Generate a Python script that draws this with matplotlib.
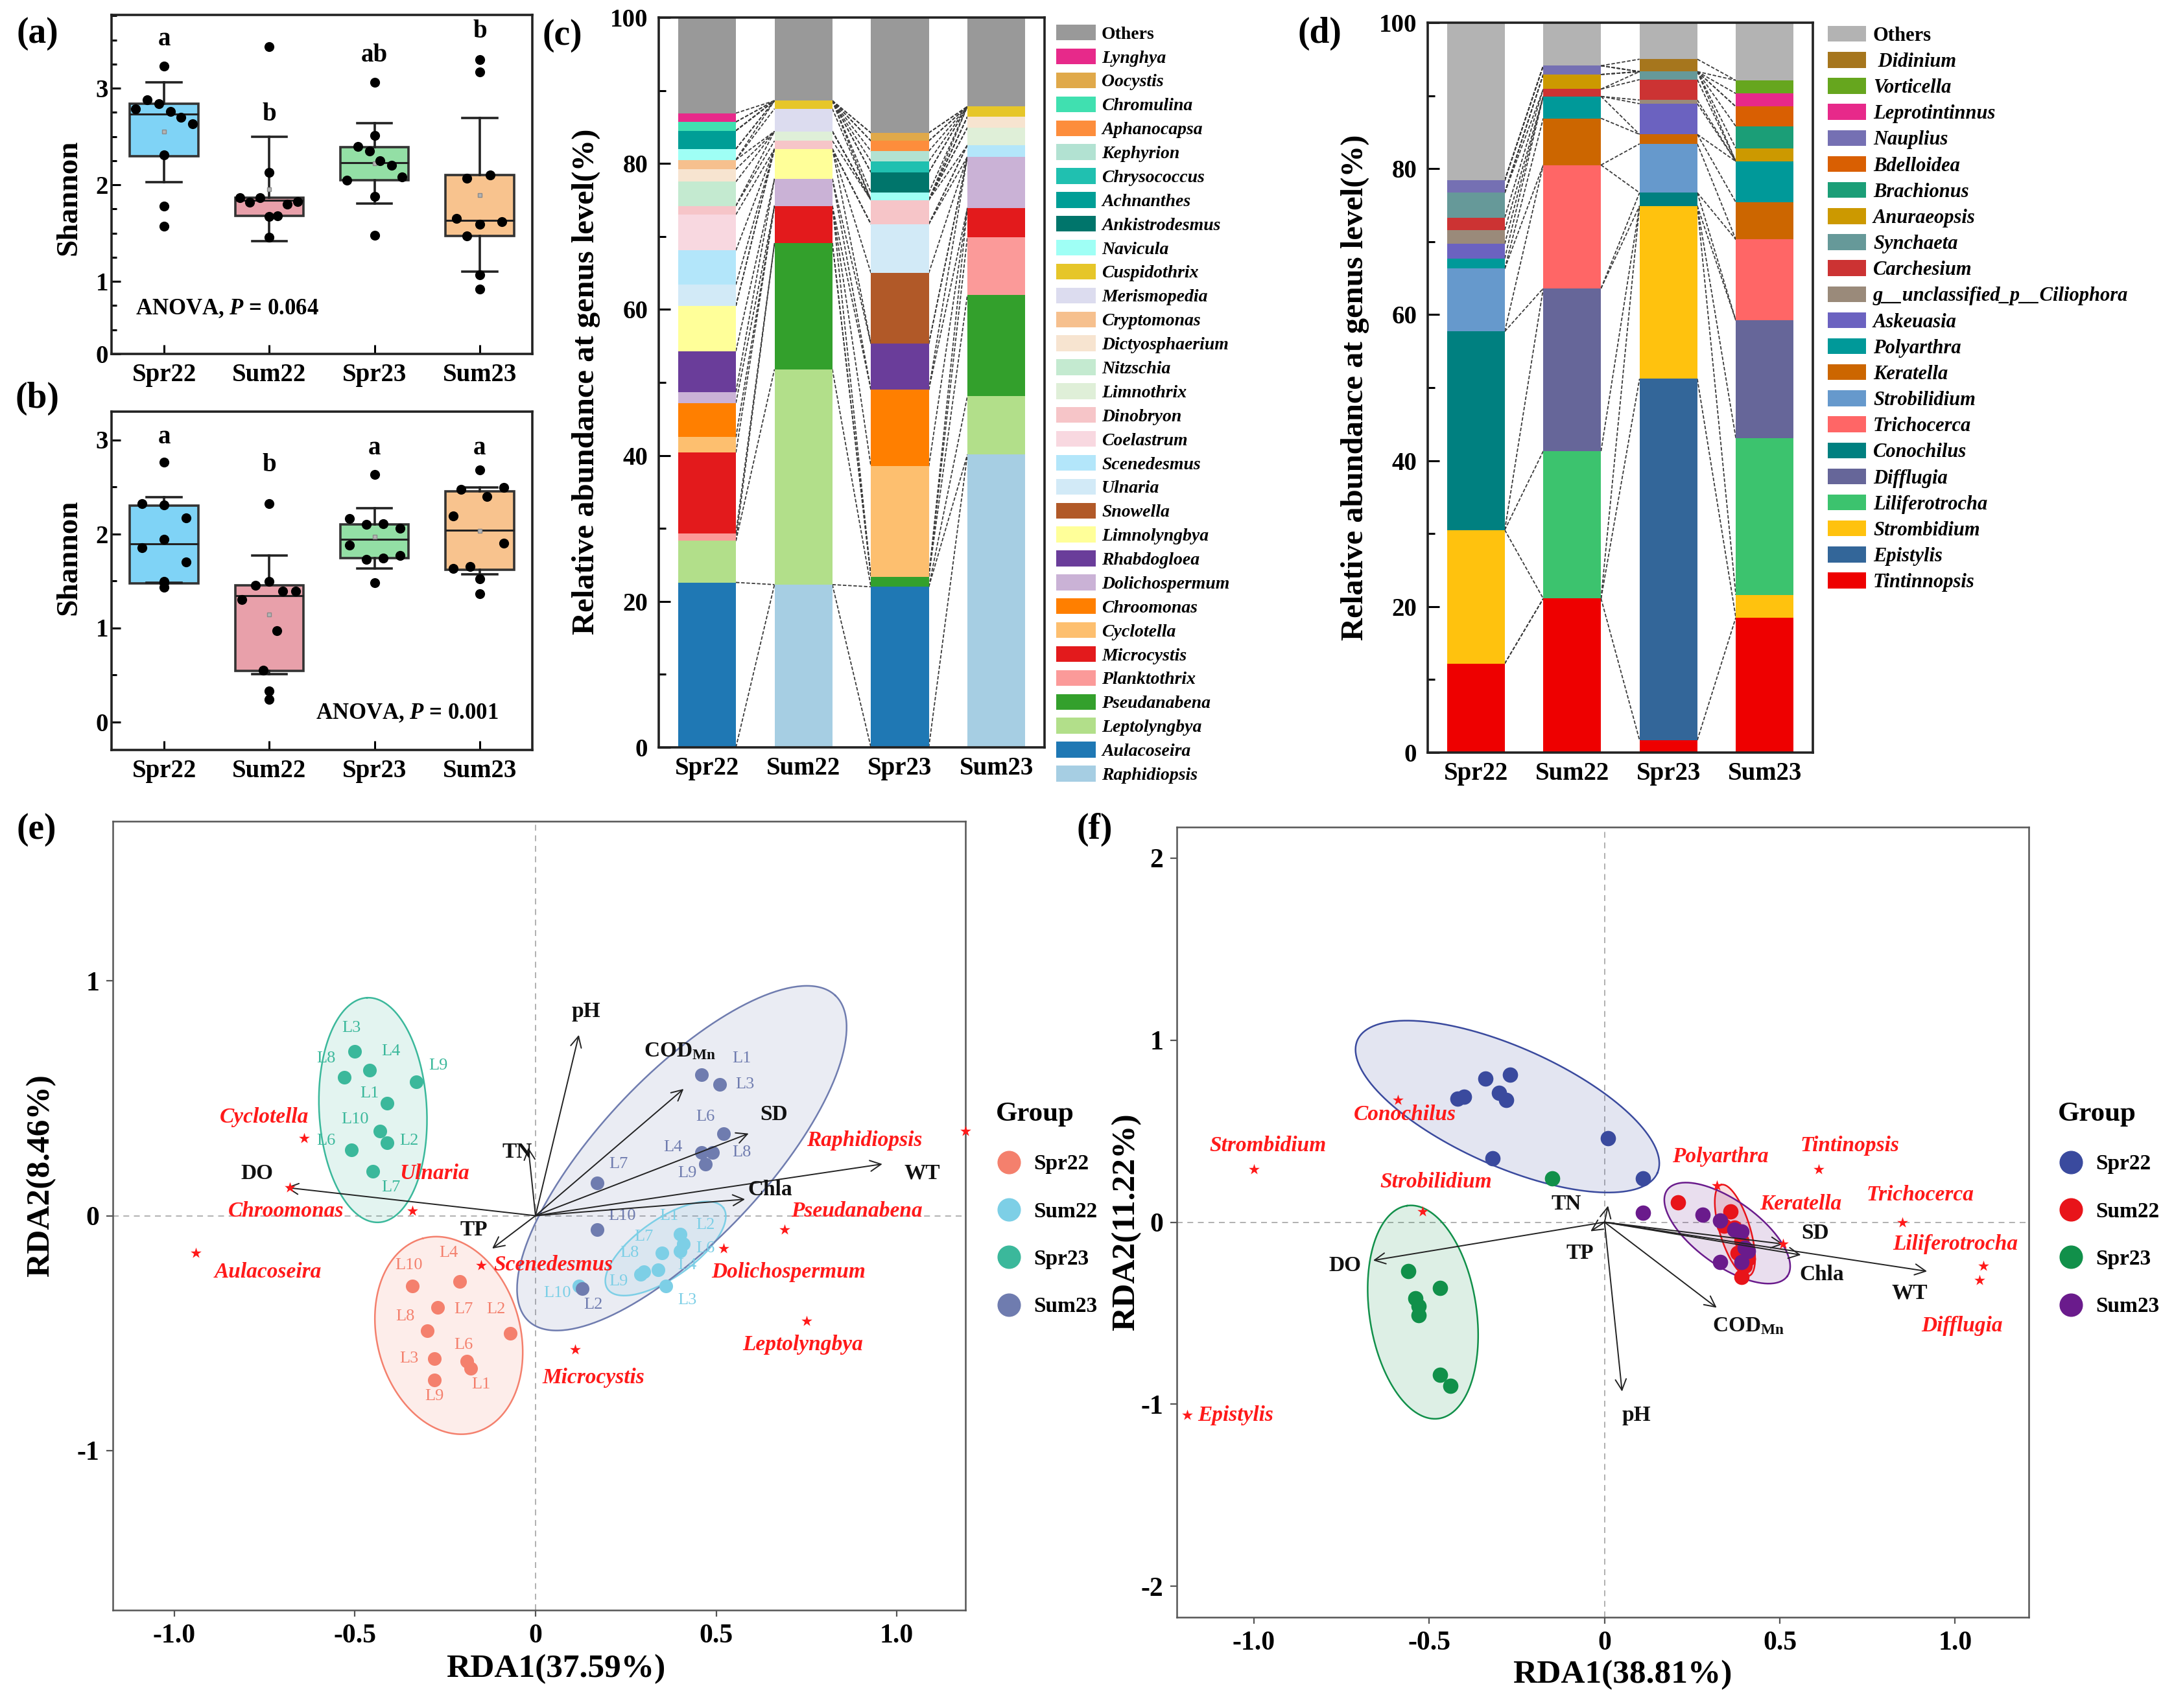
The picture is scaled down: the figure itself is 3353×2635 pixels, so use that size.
import numpy as np
import matplotlib
matplotlib.use('Agg')
import matplotlib.pyplot as plt
from matplotlib.patches import Patch
from matplotlib.lines import Line2D
from matplotlib.ticker import MultipleLocator

plt.rcParams['font.family'] = ['Liberation Serif', 'DejaVu Serif']
plt.rcParams['font.weight'] = 'bold'
plt.rcParams['mathtext.fontset'] = 'custom'
plt.rcParams['mathtext.rm'] = 'Liberation Serif:bold'
plt.rcParams['mathtext.it'] = 'Liberation Serif:italic:bold'
plt.rcParams['mathtext.bf'] = 'Liberation Serif:bold'
plt.rcParams['axes.unicode_minus'] = False

# ======================= DATA =======================
groups = ['Spr22', 'Sum22', 'Spr23', 'Sum23']

# (a) phytoplankton Shannon
a_spr22 = [3.23, 2.88, 2.84, 2.79, 2.76, 2.70, 2.63, 2.31, 1.78, 1.57]
a_sum22 = [3.43, 2.13, 1.87, 1.82, 1.87, 1.80, 1.83, 1.67, 1.68, 1.46]
a_spr23 = [3.06, 2.51, 2.40, 2.35, 2.25, 2.20, 2.08, 2.05, 1.88, 1.48]
a_sum23 = [3.30, 3.17, 2.07, 2.10, 1.65, 1.59, 1.62, 1.47, 1.07, 0.92]
a_q1 = [2.30, 1.68, 2.05, 1.47]
a_med = [2.73, 1.84, 2.23, 1.63]
a_q3 = [2.84, 1.87, 2.39, 2.10]
a_wlo = [2.03, 1.42, 1.81, 1.10]
a_whi = [3.06, 2.50, 2.64, 2.69]
a_letters = ['a', 'b', 'ab', 'b']

# (b) zooplankton Shannon
b_spr22 = [2.76, 2.32, 2.31, 2.17, 1.94, 1.85, 1.70, 1.49, 1.48, 1.43]
b_sum22 = [2.32, 1.49, 1.45, 1.39, 1.39, 1.30, 0.97, 0.55, 0.33, 0.24]
b_spr23 = [2.63, 2.16, 2.10, 2.11, 2.06, 1.88, 1.73, 1.74, 1.77, 1.48]
b_sum23 = [2.68, 2.47, 2.40, 2.49, 2.19, 1.90, 1.63, 1.65, 1.52, 1.36]
b_q1 = [1.47, 0.54, 1.74, 1.62]
b_med = [1.89, 1.34, 1.94, 2.04]
b_q3 = [2.30, 1.45, 2.10, 2.45]
b_wlo = [1.48, 0.51, 1.63, 1.57]
b_whi = [2.39, 1.77, 2.27, 2.49]
b_letters = ['a', 'b', 'a', 'a']

# (c) phytoplankton genera, bottom -> top
c_genera = ['Raphidiopsis', 'Aulacoseira', 'Leptolyngbya', 'Pseudanabena', 'Planktothrix',
            'Microcystis', 'Cyclotella', 'Chroomonas', 'Dolichospermum', 'Rhabdogloea',
            'Limnolyngbya', 'Snowella', 'Ulnaria', 'Scenedesmus', 'Coelastrum', 'Dinobryon',
            'Limnothrix', 'Nitzschia', 'Dictyosphaerium', 'Cryptomonas', 'Merismopedia',
            'Cuspidothrix', 'Navicula', 'Ankistrodesmus', 'Achnanthes', 'Chrysococcus',
            'Kephyrion', 'Aphanocapsa', 'Chromulina', 'Oocystis', 'Lynghya', 'Others']
c_spr22 = [0, 22.6, 5.7, 0, 1.0, 11.1, 2.1, 4.7, 1.5, 5.6, 6.2, 0, 2.9, 4.7, 4.9, 1.2,
           0, 3.3, 1.7, 1.3, 0, 0, 1.5, 0, 2.5, 0, 0, 0, 1.2, 0, 1.2, 13.1]
c_sum22 = [22.3, 0, 29.5, 17.3, 0, 5.1, 0, 0, 3.7, 0, 4.1, 0, 0, 0, 0, 1.1,
           1.3, 0, 0, 0, 3.1, 1.1, 0, 0, 0, 0, 0, 0, 0, 0, 0, 11.4]
c_spr23 = [0, 22.0, 0, 1.4, 0, 0, 15.1, 10.5, 0, 6.3, 0, 9.7, 6.7, 0, 0, 3.3,
           0, 0, 0, 0, 0, 0, 1.0, 2.8, 0, 1.5, 1.4, 1.4, 0, 1.1, 0, 15.8]
c_sum23 = [40.1, 0, 8.0, 13.9, 7.9, 4.0, 0, 0, 7.0, 0, 0, 0, 0, 1.6, 0, 0,
           2.4, 0, 1.5, 0, 0, 1.4, 0, 0, 0, 0, 0, 0, 0, 0, 0, 12.2]

# (d) zooplankton genera, bottom -> top
d_genera = ['Tintinnopsis', 'Epistylis', 'Strombidium', 'Liliferotrocha', 'Difflugia',
            'Conochilus', 'Trichocerca', 'Strobilidium', 'Keratella', 'Polyarthra',
            'Askeuasia', 'g__unclassified_p__Ciliophora', 'Carchesium', 'Synchaeta',
            'Anuraeopsis', 'Brachionus', 'Bdelloidea', 'Nauplius', 'Leprotintinnus',
            'Vorticella', ' Didinium', 'Others']
d_spr22 = [12.2, 0, 18.3, 0, 0, 27.2, 0, 8.6, 0, 1.4, 2.0, 1.9, 1.7, 3.4, 0, 0, 0, 1.7, 0, 0, 0, 21.6]
d_sum22 = [21.1, 0, 0, 20.2, 22.3, 0, 16.9, 0, 6.4, 3.0, 0, 0, 1.0, 0, 2.0, 0, 0, 1.2, 0, 0, 0, 5.9]
d_spr23 = [1.7, 49.5, 23.7, 0, 0, 1.8, 0, 6.7, 1.3, 0, 4.2, 0.5, 2.8, 1.1, 0, 0, 0, 0, 0, 0, 1.7, 5.0]
d_sum23 = [18.5, 0, 3.1, 21.5, 16.1, 0, 11.1, 0, 5.1, 5.6, 0, 0, 0, 0, 1.8, 3.0, 2.7, 0, 1.8, 1.8, 0, 7.9]

# (e) RDA phytoplankton: samples
e_names = ['L1', 'L2', 'L3', 'L4', 'L6', 'L7', 'L8', 'L9', 'L10']
e_spr22_x = [-0.18, -0.07, -0.28, -0.21, -0.19, -0.27, -0.30, -0.28, -0.34]
e_spr22_y = [-0.65, -0.50, -0.61, -0.28, -0.62, -0.39, -0.49, -0.70, -0.30]
e_sum22_x = [0.40, 0.41, 0.36, 0.34, 0.40, 0.35, 0.29, 0.30, 0.12]
e_sum22_y = [-0.08, -0.12, -0.30, -0.23, -0.15, -0.16, -0.25, -0.24, -0.30]
e_spr23_x = [-0.41, -0.41, -0.50, -0.46, -0.51, -0.45, -0.53, -0.33, -0.43]
e_spr23_y = [0.48, 0.31, 0.70, 0.62, 0.28, 0.19, 0.59, 0.57, 0.36]
e_sum23_x = [0.46, 0.13, 0.51, 0.46, 0.52, 0.17, 0.49, 0.47, 0.17]
e_sum23_y = [0.60, -0.31, 0.56, 0.27, 0.35, 0.14, 0.27, 0.22, -0.06]
# (e) environmental vectors
e_env = ['pH', 'COD$_{\\mathrm{Mn}}$', 'SD', 'TN', 'WT', 'Chla', 'DO', 'TP']
e_env_x = [0.12, 0.41, 0.59, -0.02, 0.96, 0.58, -0.69, -0.12]
e_env_y = [0.77, 0.54, 0.35, 0.29, 0.22, 0.07, 0.12, -0.14]
# (e) species scores
e_sp = ['Cyclotella', 'Chroomonas', 'Ulnaria', 'Aulacoseira', 'Scenedesmus', 'Microcystis',
        'Raphidiopsis', 'Pseudanabena', 'Dolichospermum', 'Leptolyngbya']
e_sp_x = [-0.64, -0.68, -0.34, -0.94, -0.15, 0.11, 1.19, 0.69, 0.52, 0.75]
e_sp_y = [0.33, 0.12, 0.02, -0.16, -0.21, -0.57, 0.36, -0.06, -0.14, -0.45]

# (f) RDA zooplankton: samples
f_spr22_x = [-0.34, -0.27, -0.42, -0.40, -0.30, -0.28, -0.32, 0.01, 0.11]
f_spr22_y = [0.79, 0.81, 0.68, 0.69, 0.71, 0.67, 0.35, 0.46, 0.24]
f_sum22_x = [0.21, 0.36, 0.37, 0.39, 0.38, 0.40, 0.39, 0.41, 0.34]
f_sum22_y = [0.11, 0.06, -0.03, -0.10, -0.17, -0.24, -0.30, -0.20, -0.02]
f_spr23_x = [-0.15, -0.56, -0.54, -0.53, -0.53, -0.47, -0.47, -0.44]
f_spr23_y = [0.24, -0.27, -0.42, -0.46, -0.51, -0.36, -0.84, -0.90]
f_sum23_x = [0.11, 0.28, 0.33, 0.37, 0.39, 0.40, 0.33, 0.39, 0.41]
f_sum23_y = [0.05, 0.04, 0.01, -0.04, -0.05, -0.14, -0.22, -0.22, -0.16]
f_env = ['TN', 'TP', 'DO', 'pH', 'COD$_{\\mathrm{Mn}}$', 'SD', 'Chla', 'WT']
f_env_x = [0.01, -0.04, -0.66, 0.05, 0.32, 0.51, 0.56, 0.92]
f_env_y = [0.09, -0.05, -0.21, -0.93, -0.47, -0.12, -0.18, -0.27]
f_sp = ['Conochilus', 'Strombidium', 'Strobilidium', 'Epistylis', 'Polyarthra', 'Tintinopsis',
        'Keratella', 'Trichocerca', 'Liliferotrocha', 'Difflugia']
f_sp_x = [-0.59, -1.00, -0.52, -1.19, 0.32, 0.61, 0.51, 0.85, 1.08, 1.07]
f_sp_y = [0.67, 0.29, 0.06, -1.06, 0.20, 0.29, -0.12, 0.00, -0.24, -0.32]

# ======================= STYLE / LAYOUT =======================
W, H = 3353, 2635
box_colors = ['#7fd3f6', '#e8a0aa', '#93dfa5', '#f8c38e']
c_colors = ['#a6cee3', '#1f78b4', '#b2df8a', '#33a02c', '#fb9a99', '#e31a1c', '#fdbf6f',
            '#ff7f00', '#cab2d6', '#6a3d9a', '#ffff99', '#b15928', '#d2eaf7', '#b3e6fa',
            '#f8d8e0', '#f6c5c8', '#dfefd8', '#c4ead0', '#f7e4d0', '#f6c08e', '#dcdcef',
            '#e6c629', '#9ffff5', '#00756b', '#009e96', '#20c0b0', '#b2e2d2', '#fd8d3c',
            '#40e0b0', '#e0a94a', '#e7298a', '#999999']
d_colors = ['#ee0000', '#336699', '#ffc20e', '#3cc36e', '#666699', '#008080', '#ff6666',
            '#6699cc', '#cc6600', '#009999', '#6b62c0', '#9a8a7a', '#cc3333', '#669999',
            '#cc9900', '#1b9e77', '#d95f02', '#7570b3', '#e7298a', '#66a61e', '#a6761d',
            '#b3b3b3']
e_cols = ['#f4806d', '#7dcfe6', '#3bb89b', '#6f7caf']
f_cols = ['#3a4a9e', '#e8141a', '#11904a', '#6a1b8c']

# jitter offsets of the overlaid points
a_xoff = [[0, -0.16, -0.05, -0.27, 0.06, 0.16, 0.27, 0, 0, 0],
          [0, 0, -0.28, -0.19, -0.09, 0.17, 0.27, 0, 0.08, 0],
          [0, 0, -0.16, -0.05, 0.05, 0.16, 0.26, -0.26, 0, 0],
          [0, 0, -0.12, 0.10, -0.22, 0, 0.21, -0.12, 0, 0]]
b_xoff = [[0, -0.21, 0, 0.21, 0, -0.21, 0.21, 0, 0, 0],
          [0, 0, -0.13, 0.13, 0.25, -0.26, 0.07, -0.06, 0, 0],
          [0, -0.24, -0.08, 0.08, 0.24, -0.24, -0.08, 0.08, 0.24, 0],
          [0, -0.18, 0.07, 0.23, -0.25, 0.23, -0.25, -0.09, 0, 0]]

fig = plt.figure(figsize=(W / 100, H / 100), dpi=100)


def rect(l, t, r, b):
    return [l / W, 1 - b / H, (r - l) / W, (b - t) / H]


def ftext(x, y, s, **kw):
    fig.text(x / W, 1 - y / H, s, **kw)


# ---------------- box panels ----------------
def box_panel(ax, pts, offs, q1, med, q3, wlo, whi, letters, lety):
    stats = [dict(med=med[i], q1=q1[i], q3=q3[i], whislo=wlo[i], whishi=whi[i],
                  mean=float(np.mean(pts[i])), fliers=[]) for i in range(4)]
    bp = ax.bxp(stats, positions=np.arange(4), widths=0.65, capwidths=0.33,
                patch_artist=True, showmeans=True, showfliers=False,
                boxprops=dict(linewidth=2.6, edgecolor='#333333'),
                whiskerprops=dict(linewidth=2.6, color='#222222'),
                capprops=dict(linewidth=2.6, color='#222222'),
                medianprops=dict(linewidth=2.2, color='#222222'),
                meanprops=dict(marker='s', markersize=5, markerfacecolor='#b5b5b5',
                               markeredgecolor='#8a8a8a', zorder=4))
    for p, c in zip(bp['boxes'], box_colors):
        p.set_facecolor(c)
    for i in range(4):
        ax.scatter(i + np.array(offs[i]), pts[i], s=120, color='black', zorder=5,
                   linewidths=0)
        ax.text(i, lety[i], letters[i], ha='center', va='center', fontsize=28,
                fontweight='bold')
    ax.set_xlim(-0.5, 3.5)
    ax.set_xticks(range(4))
    ax.set_xticklabels(groups)
    for s in ax.spines.values():
        s.set_linewidth(2.6)
        s.set_color('#222222')
    ax.tick_params(axis='both', which='both', direction='in', width=2.2, labelsize=28)
    ax.tick_params(which='major', length=10)
    ax.tick_params(which='minor', length=6)
    ax.tick_params(axis='x', pad=10)


ax_a = fig.add_axes(rect(172, 23, 821, 546))
box_panel(ax_a, [a_spr22, a_sum22, a_spr23, a_sum23], a_xoff, a_q1, a_med, a_q3, a_wlo,
          a_whi, a_letters, [3.51, 2.73, 3.34, 3.59])
ax_a.set_ylim(0.25, 3.76)
ax_a.set_yticks([0.25, 1, 2, 3])
ax_a.set_yticklabels(['0', '1', '2', '3'])
ax_a.yaxis.set_minor_locator(MultipleLocator(0.25))
ax_a.text(-0.27, 0.72, 'ANOVA, $\\mathit{P}$ = 0.064', fontsize=25, fontweight='bold',
          ha='left', va='center')

ax_b = fig.add_axes(rect(172, 635, 821, 1157))
box_panel(ax_b, [b_spr22, b_sum22, b_spr23, b_sum23], b_xoff, b_q1, b_med, b_q3, b_wlo,
          b_whi, b_letters, [3.03, 2.73, 2.91, 2.91])
ax_b.set_ylim(-0.3, 3.3)
ax_b.set_yticks([0, 1, 2, 3])
ax_b.yaxis.set_minor_locator(MultipleLocator(0.5))
ax_b.text(1.44, 0.09, 'ANOVA, $\\mathit{P}$ = 0.001', fontsize=25, fontweight='bold',
          ha='left', va='center')

ftext(106, 305, 'Shannon', rotation=90, ha='center', va='center', fontsize=34,
      fontweight='bold')
ftext(106, 860, 'Shannon', rotation=90, ha='center', va='center', fontsize=34,
      fontweight='bold')
ftext(58, 52, '(a)', ha='center', va='center', fontsize=40, fontweight='bold')
ftext(58, 615, '(b)', ha='center', va='center', fontsize=40, fontweight='bold')


# ---------------- stacked bars ----------------
def stacked(ax, genera, colors, cols):
    M = np.array(cols, dtype=float).T
    x = np.arange(4)
    w = 0.6
    bottom = np.zeros(4)
    tops = []
    for col, v in zip(colors, M):
        ax.bar(x, v, w, bottom=bottom, color=col, edgecolor='none', linewidth=0, zorder=2)
        bottom = bottom + v
        tops.append(bottom.copy())
    for t in tops[:-1]:
        for j in range(3):
            ax.plot([x[j] + w / 2, x[j + 1] - w / 2], [t[j], t[j + 1]], color='#3a3a3a',
                    lw=1.3, ls=(0, (3, 1.5)), zorder=1)
    ax.set_xlim(-0.5, 3.5)
    ax.set_ylim(0, 100)
    ax.set_xticks(x)
    ax.set_xticklabels(groups)
    ax.set_yticks(range(0, 101, 20))
    ax.yaxis.set_minor_locator(MultipleLocator(10))
    for s in ax.spines.values():
        s.set_linewidth(2.6)
        s.set_color('#222222')
    ax.tick_params(axis='x', length=0, labelsize=28, pad=10)
    ax.tick_params(axis='y', which='major', direction='in', length=13, width=2.2,
                   labelsize=28, pad=12)
    ax.tick_params(axis='y', which='minor', direction='in', length=8, width=2.2)
    handles = [Patch(facecolor=c, edgecolor='none') for c in colors[::-1]]
    return handles, genera[::-1]


ax_c = fig.add_axes(rect(1016, 27, 1611, 1153))
hc, lc = stacked(ax_c, c_genera, c_colors, [c_spr22, c_sum22, c_spr23, c_sum23])
ftext(904, 589, 'Relative abundance at genus level(%)', rotation=90, ha='center',
      va='center', fontsize=35, fontweight='bold')
ftext(867, 55, '(c)', ha='center', va='center', fontsize=40, fontweight='bold')
fs = 20 * 100 / 72
leg_c = fig.legend(hc, lc, loc='upper left', bbox_to_anchor=(1629 / W, 1 - 38 / H),
                   frameon=False, borderpad=0, borderaxespad=0,
                   prop=dict(size=20, weight='bold'), handlelength=61 / fs,
                   handleheight=27 / fs, handletextpad=9 / fs, labelspacing=0.33)
for t in leg_c.get_texts():
    if t.get_text() != 'Others':
        t.set_fontstyle('italic')

ax_d = fig.add_axes(rect(2202, 35, 2796, 1161))
hd, ld = stacked(ax_d, d_genera, d_colors, [d_spr22, d_sum22, d_spr23, d_sum23])
ftext(2090, 598, 'Relative abundance at genus level(%)', rotation=90, ha='center',
      va='center', fontsize=35, fontweight='bold')
ftext(2035, 52, '(d)', ha='center', va='center', fontsize=40, fontweight='bold')
fs = 22 * 100 / 72
leg_d = fig.legend(hd, ld, loc='upper left', bbox_to_anchor=(2819 / W, 1 - 40 / H),
                   frameon=False, borderpad=0, borderaxespad=0,
                   prop=dict(size=22, weight='bold'), handlelength=59 / fs,
                   handleheight=26 / fs, handletextpad=11 / fs, labelspacing=0.34)
for t in leg_d.get_texts():
    if t.get_text() != 'Others':
        t.set_fontstyle('italic')


# ---------------- RDA panels ----------------
def ellipse(ax, cx, cy, major_px, minor_px, ang, color):
    x0, x1 = ax.get_xlim()
    y0, y1 = ax.get_ylim()
    bb = ax.get_position()
    sx = bb.width * W / (x1 - x0)
    sy = bb.height * H / (y1 - y0)
    t = np.linspace(0, 2 * np.pi, 300)
    a, b = major_px / 2, minor_px / 2
    th = np.deg2rad(ang)
    px = a * np.cos(t) * np.cos(th) - b * np.sin(t) * np.sin(th)
    py = a * np.cos(t) * np.sin(th) + b * np.sin(t) * np.cos(th)
    xs, ys = cx + px / sx, cy + py / sy
    ax.fill(xs, ys, facecolor=color, alpha=0.14, edgecolor='none', zorder=1)
    ax.plot(xs, ys, color=color, lw=1.8, zorder=2)


def rda_axes(ax, xlim, ylim, yt):
    ax.set_xlim(xlim)
    ax.set_ylim(ylim)
    ax.axhline(0, color='#aaaaaa', ls=(0, (5, 4)), lw=1.3, zorder=0)
    ax.axvline(0, color='#aaaaaa', ls=(0, (5, 4)), lw=1.3, zorder=0)
    for s in ax.spines.values():
        s.set_linewidth(1.8)
        s.set_color('#555555')
    ax.set_xticks([-1, -0.5, 0, 0.5, 1])
    ax.set_xticklabels(['-1.0', '-0.5', '0', '0.5', '1.0'])
    ax.set_yticks(yt)
    ax.set_yticklabels([str(v) for v in yt])
    ax.tick_params(axis='both', direction='out', length=7, width=1.6, color='#555555',
                   labelsize=30, pad=8)


def arrows(ax, names, xs, ys, lab_pos):
    for n, x, y, (lx, ly) in zip(names, xs, ys, lab_pos):
        ax.annotate('', xy=(x, y), xytext=(0, 0),
                    arrowprops=dict(arrowstyle='->', color='#222222', lw=1.4,
                                    mutation_scale=30, shrinkA=0, shrinkB=0), zorder=6)
        ax.text(lx, ly, n, ha='center', va='center', fontsize=24, fontweight='bold',
                color='#111111', zorder=7)


def species(ax, names, xs, ys, lab_pos):
    ax.scatter(xs, ys, marker='*', s=160, color='#ff1a1a', zorder=7, clip_on=False,
               linewidths=0)
    for n, (lx, ly, ha) in zip(names, lab_pos):
        ax.text(lx, ly, n, ha=ha, va='center', fontsize=24, fontweight='bold',
                fontstyle='italic', color='#ff1a1a', zorder=7)


def group_legend(x_left, y_top, cols):
    h = [Line2D([], [], marker='o', ls='none', ms=25, mfc=c, mec=c) for c in cols]
    fig.legend(h, groups, loc='upper left', bbox_to_anchor=(x_left / W, 1 - y_top / H),
               frameon=False, borderpad=0, borderaxespad=0, title='Group',
               title_fontproperties={'size': 31, 'weight': 'bold'}, alignment='left',
               prop={'size': 24, 'weight': 'bold'}, handlelength=1.2, handletextpad=0.55,
               labelspacing=1.27)


# ---- (e)
ax_e = fig.add_axes(rect(174, 1267, 1489, 2484))
rda_axes(ax_e, (-1.17, 1.19), (-1.68, 1.68), [-1, 0, 1])
ellipse(ax_e, -0.24, -0.51, 310, 221, 105, e_cols[0])
ellipse(ax_e, 0.36, -0.14, 218, 90, 35, e_cols[1])
ellipse(ax_e, -0.45, 0.45, 347, 166, 93, e_cols[2])
ellipse(ax_e, 0.405, 0.245, 690, 255, 46.7, e_cols[3])
e_lab = {
    0: [(-0.15, -0.72), (-0.11, -0.40), (-0.35, -0.61), (-0.24, -0.16), (-0.20, -0.55),
        (-0.20, -0.40), (-0.36, -0.43), (-0.28, -0.77), (-0.35, -0.21)],
    1: [(0.37, 0.0), (0.47, -0.04), (0.42, -0.36), (0.42, -0.21), (0.47, -0.14),
        (0.30, -0.09), (0.26, -0.16), (0.23, -0.28), (0.06, -0.33)],
    2: [(-0.46, 0.52), (-0.35, 0.32), (-0.51, 0.80), (-0.40, 0.70), (-0.58, 0.32),
        (-0.40, 0.12), (-0.58, 0.67), (-0.27, 0.64), (-0.50, 0.41)],
    3: [(0.57, 0.67), (0.16, -0.38), (0.58, 0.56), (0.38, 0.29), (0.47, 0.42),
        (0.23, 0.22), (0.57, 0.27), (0.42, 0.18), (0.24, 0.0)],
}
for gi, (xs, ys) in enumerate([(e_spr22_x, e_spr22_y), (e_sum22_x, e_sum22_y),
                               (e_spr23_x, e_spr23_y), (e_sum23_x, e_sum23_y)]):
    ax_e.scatter(xs, ys, s=230, color=e_cols[gi], zorder=4, linewidths=0)
    for n, (lx, ly) in zip(e_names, e_lab[gi]):
        ax_e.text(lx, ly, n, ha='center', va='center', fontsize=19, fontweight='normal',
                  color=e_cols[gi], zorder=5)
arrows(ax_e, e_env, e_env_x, e_env_y,
       [(0.14, 0.87), (0.40, 0.70), (0.66, 0.43), (-0.05, 0.27), (1.07, 0.18),
        (0.65, 0.11), (-0.77, 0.18), (-0.17, -0.06)])
species(ax_e, e_sp, e_sp_x, e_sp_y,
        [(-0.75, 0.42, 'center'), (-0.69, 0.02, 'center'), (-0.28, 0.18, 'center'),
         (-0.74, -0.24, 'center'), (0.05, -0.21, 'center'), (0.16, -0.69, 'center'),
         (0.91, 0.32, 'center'), (0.89, 0.02, 'center'), (0.70, -0.24, 'center'),
         (0.74, -0.55, 'center')])
ftext(857, 2575, 'RDA1(37.59%)', ha='center', va='center', fontsize=37, fontweight='bold')
ftext(63, 1814, 'RDA2(8.46%)', rotation=90, ha='center', va='center', fontsize=37,
      fontweight='bold')
ftext(56, 1280, '(e)', ha='center', va='center', fontsize=40, fontweight='bold')
group_legend(1536, 1700, e_cols)

# ---- (f)
ax_f = fig.add_axes(rect(1815, 1276, 3129, 2495))
rda_axes(ax_f, (-1.22, 1.21), (-2.17, 2.17), [-2, -1, 0, 1, 2])
ellipse(ax_f, -0.277, 0.635, 506, 184, -23.9, f_cols[0])
ellipse(ax_f, 0.372, -0.045, 147, 47, 107, f_cols[1])
ellipse(ax_f, -0.518, -0.494, 332, 165, 98.5, f_cols[2])
ellipse(ax_f, 0.35, -0.06, 228, 100, -35.7, f_cols[3])
for gi, (xs, ys) in enumerate([(f_spr22_x, f_spr22_y), (f_sum22_x, f_sum22_y),
                               (f_spr23_x, f_spr23_y), (f_sum23_x, f_sum23_y)]):
    ax_f.scatter(xs, ys, s=290, color=f_cols[gi], zorder=4, linewidths=0)
arrows(ax_f, f_env, f_env_x, f_env_y,
       [(-0.11, 0.10), (-0.07, -0.17), (-0.74, -0.24), (0.09, -1.06), (0.41, -0.57),
        (0.60, -0.06), (0.62, -0.29), (0.87, -0.39)])
species(ax_f, f_sp, f_sp_x, f_sp_y,
        [(-0.57, 0.59, 'center'), (-0.96, 0.42, 'center'), (-0.48, 0.22, 'center'),
         (-1.16, -1.06, 'left'), (0.33, 0.36, 'center'), (0.70, 0.42, 'center'),
         (0.56, 0.10, 'center'), (0.90, 0.15, 'center'), (1.00, -0.12, 'center'),
         (1.02, -0.57, 'center')])
ftext(2502, 2584, 'RDA1(38.81%)', ha='center', va='center', fontsize=37, fontweight='bold')
ftext(1737, 1885, 'RDA2(11.22%)', rotation=90, ha='center', va='center', fontsize=37,
      fontweight='bold')
ftext(1688, 1280, '(f)', ha='center', va='center', fontsize=40, fontweight='bold')
group_legend(3174, 1700, f_cols)

fig.savefig('out.png', dpi=100)
